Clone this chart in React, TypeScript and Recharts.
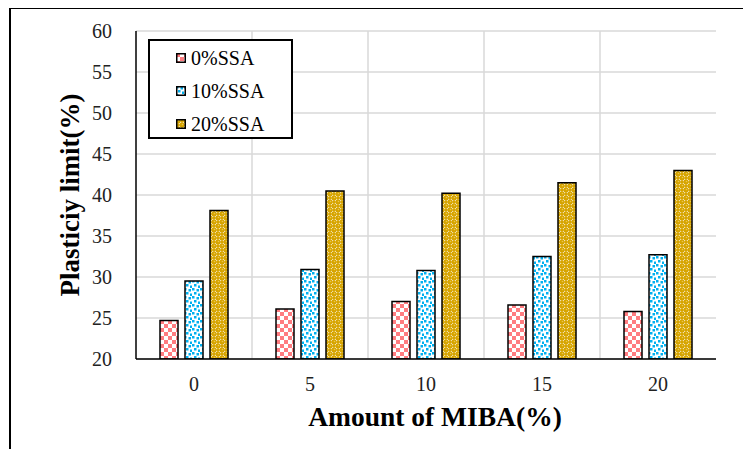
import React from 'react';
import { BarChart, Bar, XAxis, YAxis, CartesianGrid, Legend } from 'recharts';

const categories = ['0', '5', '10', '15', '20'];
const ssa0 = [24.7, 26.1, 27.0, 26.6, 25.8];
const ssa10 = [29.5, 30.9, 30.8, 32.5, 32.7];
const ssa20 = [38.1, 40.5, 40.2, 41.5, 43.0];
const yTicks = [20, 25, 30, 35, 40, 45, 50, 55, 60];
const seriesNames = ['0%SSA', '10%SSA', '20%SSA'];

const data = categories.map((c, i) => ({ cat: c, s0: ssa0[i], s10: ssa10[i], s20: ssa20[i] }));

const FONT = "'Liberation Serif', 'Times New Roman', serif";
const PINK = '#FF7C80';
const BLUE = '#00B0F0';
const GOLD = '#D6A400';

const Patterns = () => (
  <svg width={0} height={0} style={{ position: 'absolute' }}>
    <defs>
      <pattern id="patPink" width={8} height={8} patternUnits="userSpaceOnUse">
        <rect width={8} height={8} fill="#fff" />
        <rect x={0} y={0} width={4} height={4} fill={PINK} />
        <rect x={4} y={4} width={4} height={4} fill={PINK} />
      </pattern>
      <pattern id="patBlue" width={8} height={8} patternUnits="userSpaceOnUse">
        <rect width={8} height={8} fill="#fff" />
        <rect x={0} y={0} width={2.5} height={2.5} fill={BLUE} />
        <rect x={4.5} y={1} width={2.5} height={2.5} fill={BLUE} />
        <rect x={2} y={4} width={2.5} height={2.5} fill={BLUE} />
        <rect x={6} y={5.5} width={2} height={2.5} fill={BLUE} />
      </pattern>
      <pattern id="patGold" width={8} height={8} patternUnits="userSpaceOnUse">
        <rect width={8} height={8} fill={GOLD} />
        <rect x={4} y={0} width={4} height={4} fill="#fff" />
        <rect x={0} y={4} width={4} height={4} fill="#fff" />
        <circle cx={6} cy={2} r={2} fill={GOLD} />
        <circle cx={2} cy={6} r={2} fill={GOLD} />
        <circle cx={2.5} cy={1.5} r={0.8} fill="#EBC64A" />
        <circle cx={6.5} cy={5.5} r={0.8} fill="#EBC64A" />
      </pattern>
    </defs>
  </svg>
);

const fills = ['url(#patPink)', 'url(#patBlue)', 'url(#patGold)'];

const LegendBox = () => (
  <div
    style={{
      width: 141,
      height: 96,
      border: '2px solid #000',
      background: '#fff',
      fontFamily: FONT,
      fontSize: 20,
      color: '#000',
      boxSizing: 'content-box',
    }}
  >
    {seriesNames.map((n, i) => (
      <div key={n} style={{ height: 33, display: 'flex', alignItems: 'center', paddingLeft: 26 }}>
        <svg width={10} height={10} style={{ marginRight: 5 }}>
          <rect x={0.75} y={0.75} width={8.5} height={8.5} fill={fills[i]} stroke="#000" strokeWidth={1.5} />
        </svg>
        <span style={{ lineHeight: '20px' }}>{n}</span>
      </div>
    ))}
  </div>
);

const XLabel = (props: any) => {
  const vb = props.viewBox || {};
  const cx = vb.x + vb.width / 2 + 9;
  return (
    <text
      x={cx}
      y={vb.y + 67}
      textAnchor="middle"
      fontFamily="Liberation Serif"
      fontWeight={700}
      fontSize={27.5}
      fill="#000"
    >
      Amount of MIBA(%)
    </text>
  );
};

const tickStyle = { fontFamily: FONT, fontSize: 20, fill: '#222', style: { fontFamily: FONT } };

export default function App() {
  return (
    <div style={{ position: 'relative', width: 751, height: 457, margin: -8, overflow: 'hidden', background: '#fff', fontFamily: FONT }}>
      <Patterns />
      <div
        style={{
          position: 'absolute',
          left: 9,
          top: 7,
          width: 800,
          height: 500,
          borderLeft: '2px solid #000',
          borderTop: '2px solid #000',
        }}
      />
      <div
        style={{
          position: 'absolute',
          left: 70,
          top: 195,
          transform: 'translate(-50%, -50%) rotate(-90deg)',
          whiteSpace: 'nowrap',
          fontFamily: FONT,
          fontWeight: 700,
          fontSize: 27,
          lineHeight: '30px',
          color: '#000',
        }}
      >
        Plasticiy limit(%)
      </div>
      <div style={{ position: 'absolute', left: 0, top: 0 }}>
        <BarChart
          width={751}
          height={457}
          data={data}
          margin={{ top: 31, right: 35, left: 0, bottom: 0 }}
          barSize={18}
          barGap={7}
          style={{ fontFamily: FONT }}
        >
          <CartesianGrid
            stroke="#D9D9D9"
            strokeWidth={1.5}
            horizontal={true}
            vertical={true}
            verticalCoordinatesGenerator={(p: any) => {
              const off = p.offset;
              return [1, 2, 3, 4].map((i) => off.left + (i * off.width) / 5);
            }}
          />
          <XAxis
            dataKey="cat"
            xAxisId={0}
            height={98}
            tickLine={false}
            tickSize={0}
            tickMargin={18}
            axisLine={{ stroke: '#000', strokeWidth: 1.5 }}
            tick={tickStyle}
            label={<XLabel />}
          />
          <XAxis
            dataKey="cat"
            xAxisId="top"
            orientation="top"
            height={0}
            tick={false}
            tickLine={false}
            axisLine={{ stroke: '#000', strokeWidth: 1.5 }}
          />
          <YAxis
            yAxisId={0}
            width={136}
            domain={[20, 60]}
            ticks={yTicks}
            allowDataOverflow
            tickLine={false}
            tickSize={0}
            tickMargin={24}
            axisLine={{ stroke: '#000', strokeWidth: 1.5 }}
            tick={tickStyle}
          />
          <YAxis
            yAxisId="right"
            orientation="right"
            width={0}
            domain={[20, 60]}
            tick={false}
            tickLine={false}
            axisLine={{ stroke: '#000', strokeWidth: 1.5 }}
          />
          <Legend
            layout="horizontal"
            verticalAlign="middle"
            align="center"
            content={() => <LegendBox />}
            wrapperStyle={{ position: 'absolute', left: 148, top: 39, width: 145, height: 100 }}
          />
          <Bar dataKey="s0" name={seriesNames[0]} fill={fills[0]} stroke="#000" strokeWidth={1.5} isAnimationActive={false} />
          <Bar dataKey="s10" name={seriesNames[1]} fill={fills[1]} stroke="#000" strokeWidth={1.5} isAnimationActive={false} />
          <Bar dataKey="s20" name={seriesNames[2]} fill={fills[2]} stroke="#000" strokeWidth={1.5} isAnimationActive={false} />
        </BarChart>
      </div>
    </div>
  );
}
